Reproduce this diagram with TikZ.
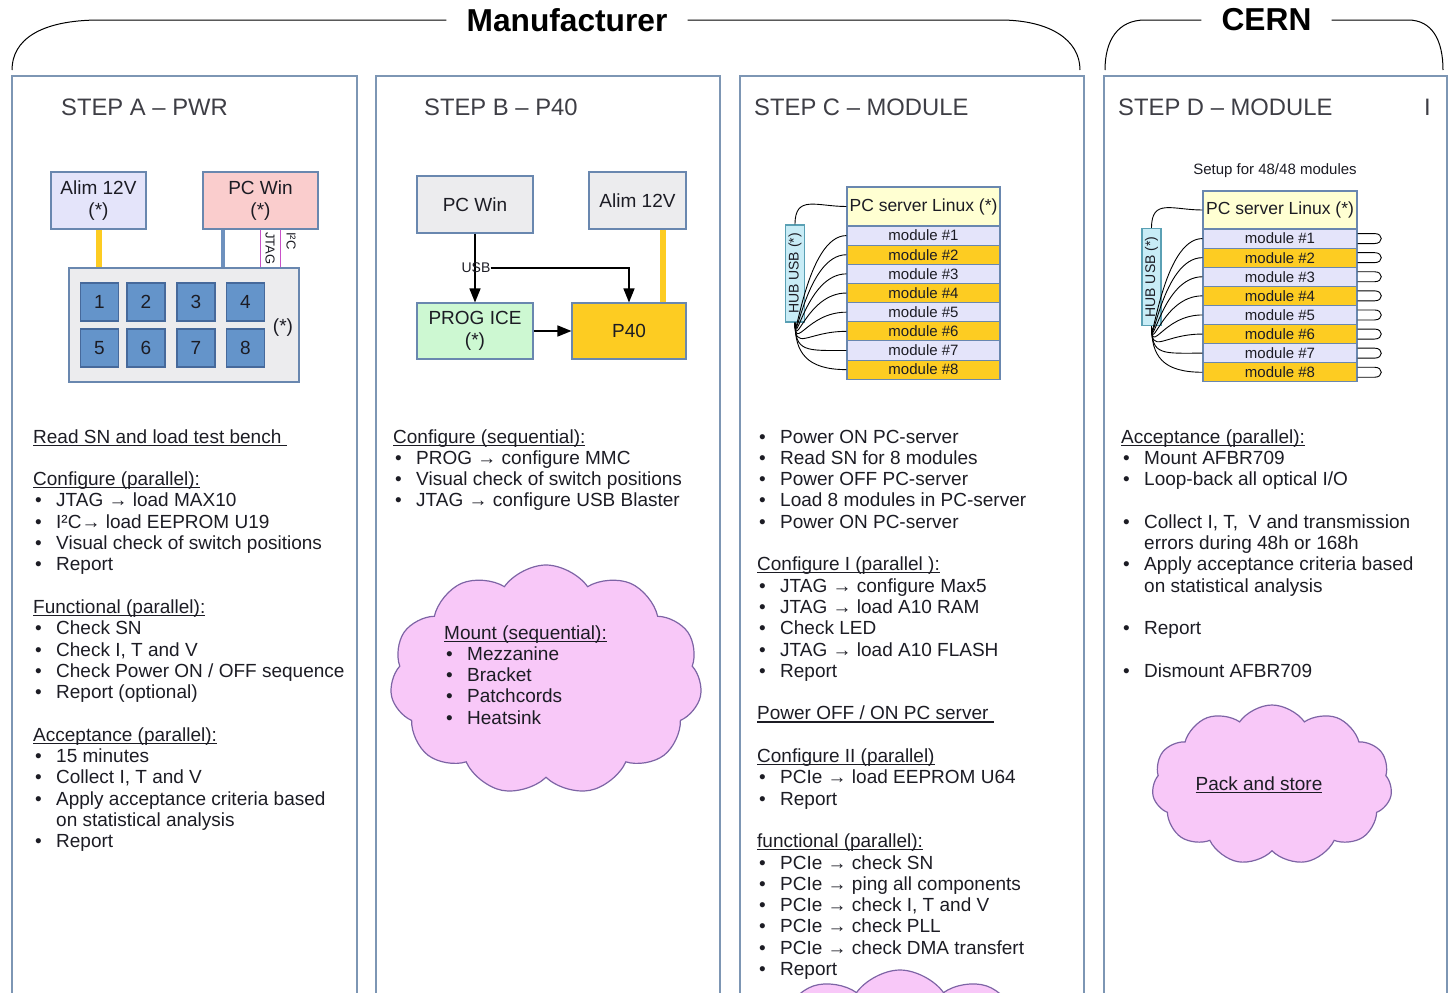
\documentclass[tikz,border=0pt]{standalone}
\usepackage{fontspec}
\setmainfont{Liberation Sans}
\usetikzlibrary{arrows.meta,shapes.symbols}

\definecolor{ink}{RGB}{28,28,36}
\definecolor{framec}{RGB}{125,150,180}
\definecolor{boxc}{RGB}{105,135,175}
\definecolor{lavender}{RGB}{228,228,250}
\definecolor{pinkbox}{RGB}{250,205,205}
\definecolor{greybox}{RGB}{236,236,238}
\definecolor{chipblue}{RGB}{100,148,202}
\definecolor{chipedge}{RGB}{70,105,155}
\definecolor{gold}{RGB}{253,204,34}
\definecolor{mint}{RGB}{205,248,210}
\definecolor{cream}{RGB}{255,255,210}
\definecolor{hubc}{RGB}{200,236,246}
\definecolor{hubedge}{RGB}{90,160,180}
\definecolor{jtagc}{RGB}{200,80,200}
\definecolor{pwrblue}{RGB}{110,145,190}
\definecolor{cloudf}{RGB}{248,200,248}
\definecolor{cloudc}{RGB}{125,100,165}

\newsavebox{\ulbox}
\newcommand{\itm}{\makebox[23pt][l]{\hspace{2pt}\textbullet}}
\newcommand{\ulin}[1]{\sbox{\ulbox}{#1}\rlap{\rule[-2.6pt]{\wd\ulbox}{1.1pt}}\usebox{\ulbox}}

\begin{document}
\begin{tikzpicture}[x=1pt,y=-1pt,
  col/.style={draw=framec,line width=1.4pt},
  unit/.style={draw=boxc,line width=1.1pt,inner sep=0pt,align=center,text=ink,font=\fontsize{19}{22}\selectfont},
  chip/.style={unit,fill=chipblue,draw=chipedge,minimum width=38pt,minimum height=38pt},
  modrow/.style={unit,minimum width=153pt,minimum height=19.15pt,font=\fontsize{15}{15}\selectfont},
  hub/.style={unit,draw=hubedge,fill=hubc,rotate=90,minimum width=97pt,minimum height=19pt,font=\fontsize{14}{14}\selectfont},
  body/.style={anchor=base west,align=left,inner sep=0pt,text=ink,font=\fontsize{19}{21.3}\selectfont},
  steptitle/.style={anchor=base west,inner sep=0pt,text=ink!85,font=\fontsize{23.8}{24}\selectfont},
  brtitle/.style={inner xsep=20pt,inner ysep=0pt,text=black,font=\fontsize{31.7}{32}\selectfont\bfseries},
  small/.style={inner sep=0pt,text=ink,font=\fontsize{13}{13}\selectfont},
  arr/.style={-{Triangle[length=14pt,width=11pt]},line width=1.5pt},
  cable/.style={line width=0.9pt},
  cloudy/.style={cloud,cloud puffs=11,cloud puff arc=110,draw=cloudc,fill=cloudf,line width=1.2pt,inner sep=0pt}]

\useasboundingbox (0,0) rectangle (1451,993);
\clip (0,0) rectangle (1451,993);

% who does what
\node[brtitle] (mfr) at (567,20) {Manufacturer};
\node[brtitle] (cern) at (1266.5,20) {CERN};
\draw[line width=1pt] (mfr.west) -- (100,20) .. controls (40,20) and (12,40) .. (12,70);
\draw[line width=1pt] (mfr.east) -- (1000,20) .. controls (1050,20) and (1080,40) .. (1080,70);
\draw[line width=1pt] (cern.west) -- (1145,20) .. controls (1118,20) and (1105,40) .. (1105,70);
\draw[line width=1pt] (cern.east) -- (1408,20) .. controls (1432,20) and (1443,40) .. (1443,70);

% columns
\draw[col] (12,76) rectangle (357,1010);
\draw[col] (376,76) rectangle (720,1010);
\draw[col] (740,76) rectangle (1084,1010);
\draw[col] (1104,76) rectangle (1447,1010);

\node[steptitle] (stA) at (61,115.5) {STEP A – PWR};
\node[steptitle] (stB) at (424,115.5) {STEP B – P40};
\node[steptitle] (stC) at (754,115.5) {STEP C – MODULE};
\node[steptitle] (stD) at (1118,115.5) {STEP D – MODULE};
\node[steptitle] (stDmark) at (1424,115.5) {I};

% step A: power board
\node[unit,fill=lavender,minimum width=95pt,minimum height=57pt] (alimA) at (98.5,200.5) {Alim 12V\\(*)};
\node[unit,fill=pinkbox,minimum width=115pt,minimum height=57pt] (pcA) at (260.5,200.5) {PC Win\\(*)};
\node[unit,fill=greybox,minimum width=230pt,minimum height=114pt] (brdA) at (184,325) {};
\foreach \n/\cx/\cy in {1/99.5/302,2/146/302,3/196/302,4/245.5/302,5/99.5/348,6/146/348,7/196/348,8/245.5/348}
  \node[chip] (ch\n) at (\cx,\cy) {\n};
\node[unit,draw=none] (brdstar) at (283,328) {(*)};
\draw[gold,line width=6pt] (alimA.south) -- (alimA.south |- brdA.north);
\draw[pwrblue,line width=4pt] ([xshift=-37.5pt]pcA.south) -- ([xshift=-37.5pt]pcA.south |- brdA.north);
\draw[jtagc,line width=0.9pt] (pcA.south) -- (pcA.south |- brdA.north);
\draw[jtagc,line width=0.9pt] ([xshift=19.5pt]pcA.south) -- ([xshift=19.5pt]pcA.south |- brdA.north);
\node[small,rotate=-90,anchor=west] (jtagA) at (270,232) {JTAG};
\node[small,rotate=-90,anchor=west] (i2cA) at (291,232) {I²C};

% step B: P40
\node[unit,fill=greybox,minimum width=116pt,minimum height=57pt] (pcB) at (475,204.5) {PC Win};
\node[unit,fill=greybox,minimum width=97pt,minimum height=57pt] (alimB) at (637.5,200.5) {Alim 12V};
\node[unit,fill=mint,minimum width=116pt,minimum height=56pt] (progB) at (475,331) {PROG ICE\\(*)};
\node[unit,fill=gold,minimum width=114pt,minimum height=56pt] (p40B) at (629,331) {P40};
\draw[gold,line width=6pt] ([xshift=25.5pt]alimB.south) -- ([xshift=25.5pt]alimB.south |- p40B.north);
\draw[arr] (pcB) -- (progB);
\node[small,font=\fontsize{14}{14}\selectfont] (usbB) at (476,268) {USB};
\draw[arr] (usbB.east) -| (p40B.north);
\draw[arr] (progB) -- (p40B);

% step C: 8 modules in the server
\node[unit,fill=cream,minimum width=153pt,minimum height=39pt,font=\fontsize{17.5}{18}\selectfont] (srvC) at (923.5,206.5) {PC server Linux (*)};
\node[hub] (hubC) at (795,273.5) {HUB USB (*)};
\draw[cable] (hubC.east) .. controls +(0,-30) and +(-30,0) .. (srvC.west);
\foreach \i in {1,...,8}{
  \pgfmathsetmacro{\ry}{226+19.15*(\i-0.5)}
  \ifodd\i \def\rc{lavender}\else \def\rc{gold}\fi
  \node[modrow,fill=\rc] (mC\i) at (923.5,\ry) {module \#\i};
  \draw[cable] (hubC.west) .. controls +(0,30) and +(-40,0) .. (mC\i.west);
}

% step D: same setup, optical loop-back
\node[small,font=\fontsize{15}{15}\selectfont] (setupD) at (1275,171) {Setup for 48/48 modules};
\node[unit,fill=cream,minimum width=154pt,minimum height=38pt,font=\fontsize{17.5}{18}\selectfont] (srvD) at (1280,210) {PC server Linux (*)};
\node[hub] (hubD) at (1151.5,277) {HUB USB (*)};
\draw[cable] (hubD.east) .. controls +(0,-30) and +(-30,0) .. (srvD.west);
\foreach \i in {1,...,8}{
  \pgfmathsetmacro{\ry}{229+19.1*(\i-0.5)}
  \ifodd\i \def\rc{lavender}\else \def\rc{gold}\fi
  \node[modrow,minimum width=154pt,fill=\rc] (mD\i) at (1280,\ry) {module \#\i};
  \draw[cable] (hubD.west) .. controls +(0,30) and +(-40,0) .. (mD\i.west);
  \draw[cable] ([yshift=5pt]mD\i.east) -- ++(17,0) .. controls +(9,0) and +(9,0) .. ++(0,10) -- ++(-17,0);
}

% clouds
\node[cloudy,minimum width=312pt,minimum height=230pt] (cldB) at (546,680) {};
\node[cloudy,minimum width=240pt,minimum height=160pt] (cldD) at (1272,785) {};
\node[cloudy,minimum width=320pt,minimum height=200pt] (cldC) at (900,1070) {};

% procedures (anchored on the baseline of the last line)
\node[body] (txtA) at (33,847.7) {%
\ulin{Read SN and load test bench\ }\\
\\
\ulin{Configure (parallel):}\\
\itm JTAG → load MAX10\\
\itm I²C→ load EEPROM U19\\
\itm Visual check of switch positions\\
\itm Report\\
\\
\ulin{Functional (parallel):}\\
\itm Check SN\\
\itm Check I, T and V\\
\itm Check Power ON / OFF sequence\\
\itm Report (optional)\\
\\
\ulin{Acceptance (parallel):}\\
\itm 15 minutes\\
\itm Collect I, T and V\\
\itm Apply acceptance criteria based\\
\hspace*{23pt}on statistical analysis\\
\itm Report};

\node[body] (txtB) at (393,506.9) {%
\ulin{Configure (sequential):}\\
\itm PROG → configure MMC\\
\itm Visual check of switch positions\\
\itm JTAG → configure USB Blaster};

\node[body] (mntB) at (444,724.2) {%
\ulin{Mount (sequential):}\\
\itm Mezzanine\\
\itm Bracket\\
\itm Patchcords\\
\itm Heatsink};

\node[body] (txtC) at (757,975.5) {%
\itm Power ON PC-server\\
\itm Read SN for 8 modules\\
\itm Power OFF PC-server\\
\itm Load 8 modules in PC-server\\
\itm Power ON PC-server\\
\\
\ulin{Configure I (parallel ):}\\
\itm JTAG → configure Max5\\
\itm JTAG → load A10 RAM\\
\itm Check LED\\
\itm JTAG → load A10 FLASH\\
\itm Report\\
\\
\ulin{Power OFF / ON PC server\ }\\
\\
\ulin{Configure II (parallel)}\\
\itm PCIe → load EEPROM U64\\
\itm Report\\
\\
\ulin{functional (parallel):}\\
\itm PCIe → check SN\\
\itm PCIe → ping all components\\
\itm PCIe → check I, T and V\\
\itm PCIe → check PLL\\
\itm PCIe → check DMA transfert\\
\itm Report};

\node[body] (txtD) at (1121,677.3) {%
\ulin{Acceptance (parallel):}\\
\itm Mount AFBR709\\
\itm Loop-back all optical I/O\\
\\
\itm Collect I, T,\ \ V and transmission\\
\hspace*{23pt}errors during 48h or 168h\\
\itm Apply acceptance criteria based\\
\hspace*{23pt}on statistical analysis\\
\\
\itm Report\\
\\
\itm Dismount AFBR709};

\node[body,anchor=base] (packD) at (1259,790) {\ulin{Pack and store}};

\end{tikzpicture}
\end{document}
